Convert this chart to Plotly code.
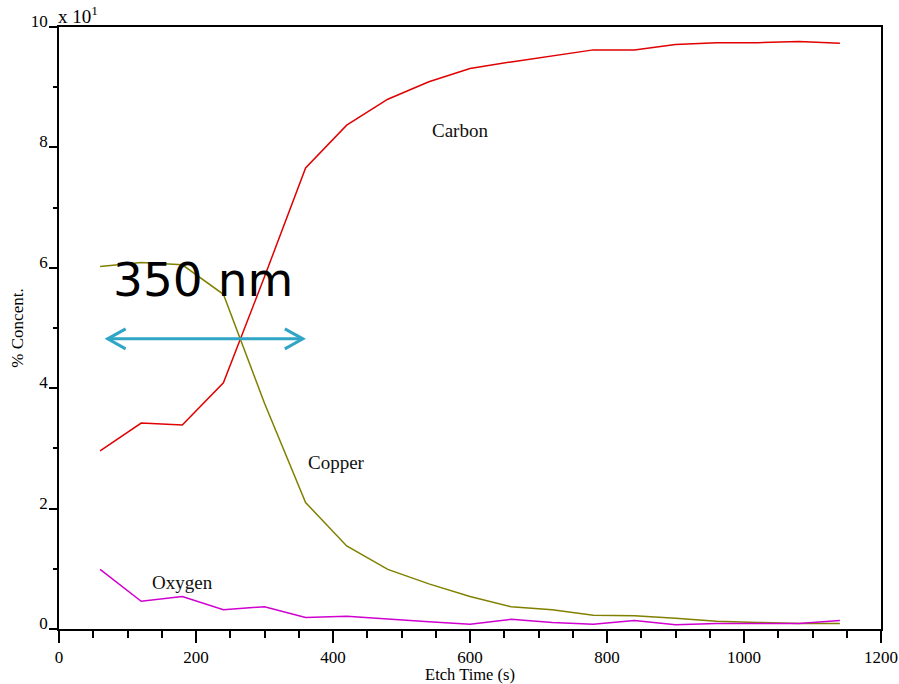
import plotly.graph_objects as go

time_s = [60, 120, 180, 240, 300, 360, 420, 480, 540, 600, 660, 720, 780, 840, 900, 960, 1020, 1080, 1140]
carbon = [29.6, 34.2, 33.9, 40.9, 58.5, 76.6, 83.7, 88.0, 90.9, 93.1, 94.2, 95.2, 96.2, 96.2, 97.1, 97.4, 97.4, 97.6, 97.3]
copper = [60.2, 60.9, 60.5, 55.6, 37.5, 21.0, 13.8, 9.9, 7.5, 5.4, 3.7, 3.2, 2.3, 2.2, 1.8, 1.3, 1.1, 0.9, 0.9]
oxygen = [9.9, 4.6, 5.4, 3.2, 3.7, 1.9, 2.1, 1.6, 1.2, 0.8, 1.6, 1.1, 0.8, 1.4, 0.7, 0.9, 0.9, 0.9, 1.4]

series_names = ["Carbon", "Copper", "Oxygen"]
series_colors = ["#e00000", "#808000", "#d000d0"]
label_x = [585, 405, 181]
label_y = [82.8, 27.6, 7.8]

y_tickvals = [0, 20, 40, 60, 80, 100]
y_ticktext = ["0", "2", "4", "6", "8", "10"]
x_tickvals = [0, 200, 400, 600, 800, 1000, 1200]

arrow_x = [71, 356]
arrow_y = 48.2
arrow_text = "350 nm"

serif = "Liberation Serif"

fig = go.Figure()
for name, vals, col in zip(series_names, [carbon, copper, oxygen], series_colors):
    fig.add_trace(go.Scatter(x=time_s, y=vals, mode="lines", name=name,
                             line=dict(color=col, width=1.5), showlegend=False))

for name, lx, ly in zip(series_names, label_x, label_y):
    fig.add_annotation(x=lx, y=ly, text=name, showarrow=False,
                       font=dict(family=serif, size=19, color="#111111"))

# measurement arrow
ac = "#30a5c5"
hx = 26.3
hy = 1.66
x0, x1 = arrow_x
fig.add_shape(type="line", x0=x0, x1=x1, y0=arrow_y, y1=arrow_y,
              line=dict(color=ac, width=3))
fig.add_shape(type="path",
              path=f"M {x0+hx},{arrow_y+hy} L {x0},{arrow_y} L {x0+hx},{arrow_y-hy}",
              line=dict(color=ac, width=3))
fig.add_shape(type="path",
              path=f"M {x1-hx},{arrow_y+hy} L {x1},{arrow_y} L {x1-hx},{arrow_y-hy}",
              line=dict(color=ac, width=3))
fig.add_annotation(x=209.5, y=58.1, text=arrow_text, showarrow=False,
                   font=dict(family="DejaVu Sans", size=47, color="black"))

fig.add_annotation(xref="paper", yref="paper", x=0, y=1, xanchor="left", yanchor="bottom",
                   text="x 10<sup>1</sup>", showarrow=False, yshift=-2, xshift=-3,
                   font=dict(family=serif, size=19, color="black"))

fig.update_xaxes(range=[0, 1200], tickvals=x_tickvals, ticks="outside", ticklen=12,
                 tickwidth=1.5, tickcolor="black", showline=True, linecolor="black",
                 linewidth=1.5, mirror=True, showgrid=False, zeroline=False, automargin=False,
                 tickfont=dict(family=serif, size=17, color="black"),
                 minor=dict(dtick=50, tick0=0, ticks="outside", ticklen=7, tickwidth=1.5,
                            tickcolor="black", showgrid=False),
                 title=dict(text="Etch Time (s)", font=dict(family=serif, size=16.5, color="black"),
                            standoff=3))
fig.update_yaxes(range=[0, 100], tickvals=y_tickvals, ticktext=y_ticktext, ticks="outside",
                 ticklen=8, tickwidth=1.5, tickcolor="black", showline=True, linecolor="black",
                 linewidth=1.5, mirror=True, showgrid=False, zeroline=False, automargin=False,
                 ticklabelshift=-6, ticklabelstandoff=-2,
                 tickfont=dict(family=serif, size=17, color="black"),
                 minor=dict(dtick=10, tick0=0, ticks="outside", ticklen=4, tickwidth=1.5,
                            tickcolor="black", showgrid=False),
                 title=dict(text="% Concent.", font=dict(family=serif, size=17, color="black"),
                            standoff=3))

fig.update_layout(width=899, height=684, margin=dict(l=59, r=18, t=27, b=55),
                  plot_bgcolor="white", paper_bgcolor="white")

fig.write_html("out.html")
